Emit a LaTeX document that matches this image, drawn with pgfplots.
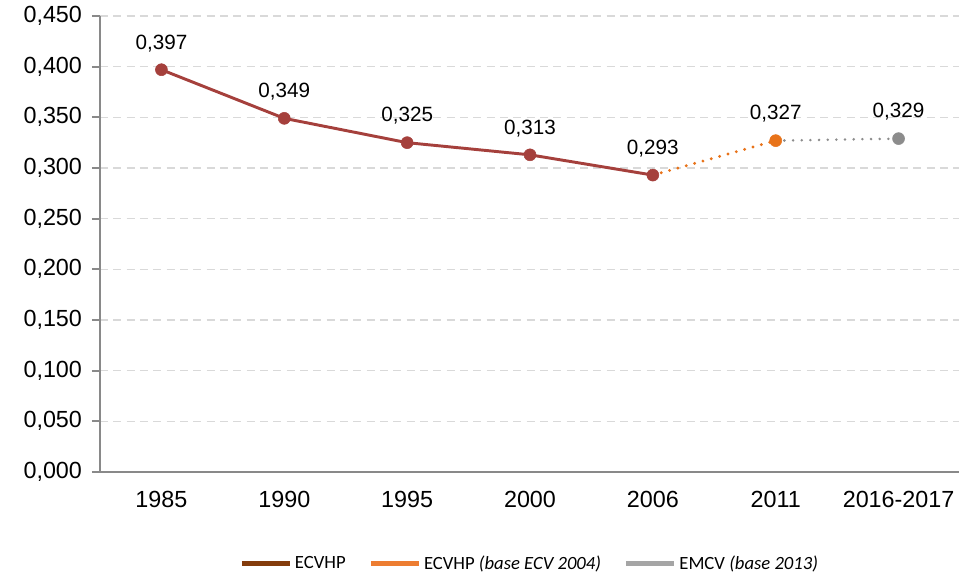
\documentclass[border=0pt]{standalone}
\usepackage{pgfplots}
\pgfplotsset{compat=1.18}
\usepackage{fontspec}
\setmainfont{Liberation Sans}
\newfontfamily\carlito{Carlito}

\definecolor{serA}{HTML}{A5403C}
\definecolor{serB}{HTML}{E8731A}
\definecolor{serC}{HTML}{8C8C8C}
\definecolor{legA}{HTML}{843C0C}
\definecolor{legB}{HTML}{ED7D31}
\definecolor{legC}{HTML}{A5A5A5}
\definecolor{axisgray}{HTML}{898989}
\definecolor{gridgray}{HTML}{D9D9D9}

\begin{document}
\begin{tikzpicture}
\useasboundingbox (-75pt,-77.25pt) rectangle (644.25pt,354pt);
\begin{axis}[
    scale only axis,
    width=645pt, height=342pt,
    xmin=-0.5, xmax=6.5,
    ymin=0, ymax=0.45,
    axis x line*=bottom, axis y line*=left,
    axis line style={draw=axisgray, line width=1.3pt},
    xtick={0,1,2,3,4,5,6},
    xticklabels={1985,1990,1995,2000,2006,2011,2016-2017},
    x tick style={draw=none},
    extra x ticks={-0.5,0.5,1.5,2.5,3.5,4.5,5.5},
    extra x tick labels={},
    extra x tick style={tick style={draw=axisgray, line width=1.3pt}},
    ytick={0,0.05,0.1,0.15,0.2,0.25,0.3,0.35,0.4,0.45},
    y tick style={draw=axisgray, line width=1.3pt},
    tick align=outside,
    major tick length=6pt,
    ymajorgrids,
    grid style={gridgray, line width=1.2pt, dash pattern=on 6pt off 4pt},
    /pgf/number format/.cd, use comma, fixed, fixed zerofill, precision=3, assume math mode=true,
    /pgfplots/.cd,
    tick label style={font=\fontsize{17.5}{20}\selectfont},
    yticklabel style={xshift=-4pt},
    xticklabel style={yshift=-5pt},
    legend style={at={(0.5,-0.2)}, anchor=center, draw=none, fill=none,
        font=\carlito\fontsize{14}{17}\selectfont,
        /tikz/every even column/.append style={column sep=15pt}},
    legend columns=3,
    legend cell align=left,
    every node near coord/.append style={text=black, font=\fontsize{15.5}{18}\selectfont, yshift=10pt},
]
\addplot[serB, line width=2.4pt, dash pattern=on 0pt off 6.5pt, line cap=round, forget plot]
    coordinates {(4,0.293)(5,0.327)};
\addplot[serC, line width=2.1pt, dash pattern=on 0pt off 6.5pt, line cap=round, forget plot]
    coordinates {(5,0.327)(6,0.329)};
\addplot[serA, line width=2.2pt, mark=*, mark size=4.5pt, mark options={line width=0.4pt}, nodes near coords, forget plot]
    coordinates {(0,0.397)(1,0.349)(2,0.325)(3,0.313)(4,0.293)};
\addplot[serB, only marks, mark=*, mark size=4.5pt, mark options={line width=0.4pt}, nodes near coords, forget plot]
    coordinates {(5,0.327)};
\addplot[serC, only marks, mark=*, mark size=4.5pt, mark options={line width=0.4pt}, nodes near coords, forget plot]
    coordinates {(6,0.329)};

\addlegendimage{legend image code/.code={\draw[legA, line width=3.75pt] (0pt,0pt) -- (36pt,0pt);}}
\addlegendentry{ECVHP}
\addlegendimage{legend image code/.code={\draw[legB, line width=3.75pt] (0pt,0pt) -- (36pt,0pt);}}
\addlegendentry{ECVHP \textit{(base ECV 2004)}}
\addlegendimage{legend image code/.code={\draw[legC, line width=3.75pt] (0pt,0pt) -- (36pt,0pt);}}
\addlegendentry{EMCV \textit{(base 2013)}}
\end{axis}
\end{tikzpicture}
\end{document}
